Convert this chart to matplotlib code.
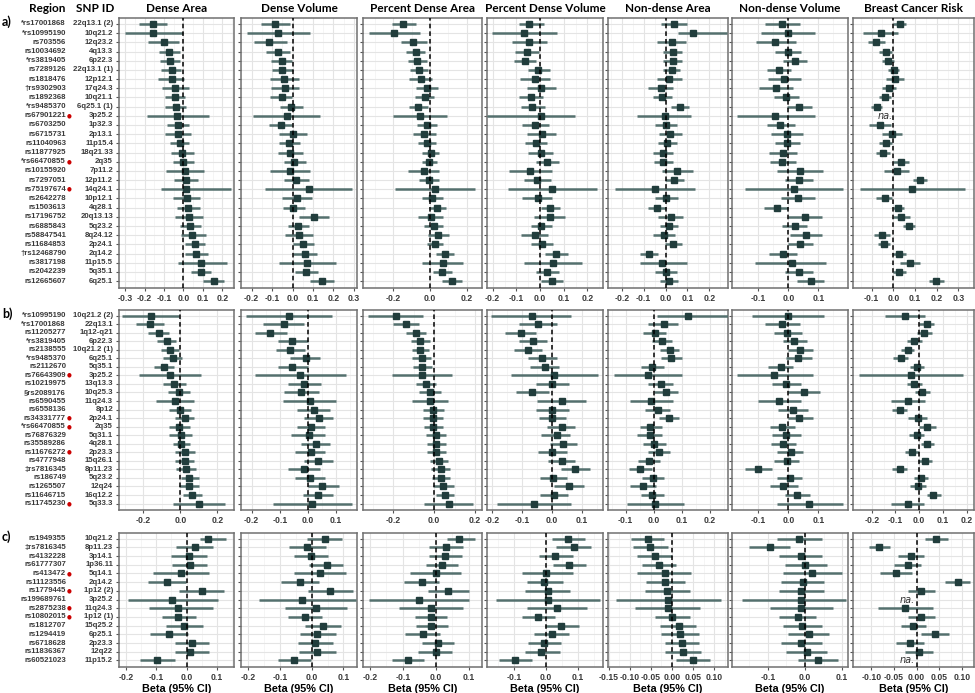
import matplotlib.pyplot as plt
import matplotlib.transforms as mtransforms
import numpy as np

traits = ["Dense Area", "Dense Volume", "Percent Dense Area", "Percent Dense Volume",
          "Non-dense Area", "Non-dense Volume", "Breast Cancer Risk"]

# ---------------- panel a ----------------
a_snps = ["*rs17001868", "*rs10995190", "rs703556", "rs10034692", "*rs3819405", "rs7289126",
          "rs1818476", "\u2020rs9302903", "rs1892368", "*rs9485370", "rs67901221", "rs6703250",
          "rs6715731", "rs11040963", "rs11877925", "*rs66470855", "rs10155920", "rs7297051",
          "rs75197674", "rs2642278", "rs1503613", "rs17196752", "rs6885843", "rs58847541",
          "rs11684853", "\u2020rs12468790", "rs3817198", "rs2042239", "rs12665607"]
a_regions = ["22q13.1 (2)", "10q21.2", "12q23.2", "4q13.3", "6p22.3", "22q13.1 (1)", "12p12.1",
             "17q24.3", "10q21.1", "6q25.1 (1)", "3p25.2", "1p32.3", "2p13.1", "11p15.4",
             "18q21.33", "2q35", "7p11.2", "12p11.2", "14q24.1", "10p12.1", "4q28.1", "20q13.13",
             "5q23.2", "8q24.12", "2p24.1", "2q14.2", "11p15.5", "5q35.1", "6q25.1"]
a_flag = [10, 15, 18]

a_dense_area = [(-0.158, -0.228, -0.084), (-0.158, -0.300, -0.004), (-0.100, -0.184, -0.023),
                (-0.075, -0.128, -0.018), (-0.070, -0.121, -0.018), (-0.061, -0.114, -0.012),
                (-0.061, -0.130, 0.005), (-0.044, -0.112, 0.026), (-0.042, -0.096, 0.009),
                (-0.040, -0.093, 0.012), (-0.033, -0.190, 0.130), (-0.028, -0.086, 0.030),
                (-0.028, -0.093, 0.039), (-0.018, -0.068, 0.030), (-0.009, -0.065, 0.053),
                (-0.004, -0.054, 0.053), (0.009, -0.088, 0.105), (0.012, -0.047, 0.074),
                (0.014, -0.118, 0.247), (0.016, -0.056, 0.084), (0.025, -0.035, 0.084),
                (0.026, -0.044, 0.098), (0.035, -0.019, 0.088), (0.046, -0.012, 0.114),
                (0.058, 0.007, 0.112), (0.065, 0.009, 0.128), (0.088, -0.030, 0.225),
                (0.090, 0.037, 0.140), (0.156, 0.102, 0.210)]
a_dense_volume = [(-0.087, -0.156, -0.013), (-0.070, -0.224, 0.085), (-0.114, -0.188, -0.029),
                  (-0.071, -0.130, -0.013), (-0.053, -0.107, -0.003), (-0.050, -0.102, 0.000),
                  (-0.040, -0.110, 0.031), (-0.037, -0.104, 0.033), (-0.053, -0.110, -0.003),
                  (-0.008, -0.061, 0.049), (-0.029, -0.195, 0.134), (-0.058, -0.114, -0.003),
                  (0.000, -0.065, 0.069), (-0.019, -0.068, 0.036), (-0.013, -0.070, 0.049),
                  (0.008, -0.042, 0.065), (-0.011, -0.110, 0.085), (0.018, -0.042, 0.078),
                  (0.078, -0.135, 0.290), (0.020, -0.053, 0.093), (0.004, -0.049, 0.059),
                  (0.105, 0.031, 0.178), (0.028, -0.024, 0.081), (0.031, -0.037, 0.101),
                  (0.051, 0.000, 0.105), (0.062, 0.004, 0.121), (0.073, -0.067, 0.212),
                  (0.068, 0.012, 0.125), (0.143, 0.085, 0.202)]
a_pct_dense_area = [(-0.145, -0.205, -0.078), (-0.195, -0.331, -0.055), (-0.091, -0.158, -0.018),
                    (-0.078, -0.131, -0.027), (-0.069, -0.118, -0.018), (-0.058, -0.109, -0.009),
                    (-0.051, -0.113, 0.009), (-0.018, -0.078, 0.045), (-0.027, -0.082, 0.022),
                    (-0.064, -0.113, -0.009), (-0.055, -0.204, 0.095), (-0.015, -0.073, 0.040),
                    (-0.031, -0.091, 0.031), (-0.018, -0.064, 0.031), (0.004, -0.045, 0.051),
                    (-0.004, -0.045, 0.040), (-0.031, -0.118, 0.051), (-0.004, -0.058, 0.051),
                    (0.027, -0.191, 0.245), (0.011, -0.045, 0.073), (0.040, -0.004, 0.087),
                    (0.004, -0.064, 0.073), (0.020, -0.031, 0.069), (0.045, -0.013, 0.105),
                    (0.027, -0.018, 0.073), (0.082, 0.033, 0.131), (0.069, -0.045, 0.182),
                    (0.067, 0.018, 0.118), (0.118, 0.064, 0.173)]
a_pct_dense_volume = [(-0.046, -0.089, 0.017), (-0.068, -0.204, 0.070), (-0.046, -0.120, 0.031),
                      (-0.056, -0.106, -0.004), (-0.063, -0.110, -0.018), (-0.007, -0.049, 0.042),
                      (-0.021, -0.085, 0.041), (0.006, -0.054, 0.066), (-0.037, -0.089, 0.013),
                      (-0.032, -0.082, 0.020), (0.003, -0.223, 0.148), (-0.021, -0.075, 0.038),
                      (0.007, -0.054, 0.069), (-0.015, -0.063, 0.031), (0.003, -0.049, 0.056),
                      (0.031, -0.015, 0.080), (-0.042, -0.131, 0.049), (-0.011, -0.068, 0.045),
                      (0.052, -0.134, 0.239), (-0.010, -0.075, 0.052), (0.042, 0.003, 0.085),
                      (0.041, -0.025, 0.106), (0.006, -0.039, 0.052), (-0.023, -0.082, 0.035),
                      (0.010, -0.039, 0.055), (0.069, 0.021, 0.118), (0.056, -0.068, 0.179),
                      (0.031, -0.018, 0.080), (0.049, 0.003, 0.099)]
a_nondense_area = [(0.038, -0.021, 0.098), (0.126, 0.058, 0.280), (0.029, -0.041, 0.095),
                   (0.035, -0.011, 0.077), (0.032, -0.011, 0.073), (0.029, -0.014, 0.065),
                   (0.015, -0.041, 0.073), (-0.023, -0.079, 0.032), (-0.017, -0.056, 0.027),
                   (0.064, 0.023, 0.106), (-0.003, -0.129, 0.118), (0.000, -0.048, 0.050),
                   (0.020, -0.030, 0.073), (0.005, -0.033, 0.050), (-0.012, -0.056, 0.032),
                   (-0.012, -0.053, 0.032), (0.053, -0.018, 0.126), (0.038, -0.003, 0.083),
                   (-0.048, -0.230, 0.133), (0.002, -0.048, 0.058), (-0.041, -0.079, 0.000),
                   (0.023, -0.033, 0.080), (0.017, -0.026, 0.058), (-0.008, -0.059, 0.042),
                   (0.032, -0.003, 0.073), (-0.076, -0.117, -0.033), (-0.018, -0.117, 0.098),
                   (0.002, -0.048, 0.050), (0.017, -0.026, 0.058)]
a_nondense_volume = [(-0.020, -0.078, 0.039), (-0.002, -0.092, 0.089), (-0.043, -0.108, 0.026),
                     (-0.002, -0.044, 0.041), (0.022, -0.017, 0.063), (-0.032, -0.072, 0.008),
                     (-0.013, -0.067, 0.041), (-0.041, -0.097, 0.014), (-0.007, -0.048, 0.037),
                     (0.034, -0.006, 0.078), (-0.044, -0.170, 0.089), (-0.027, -0.072, 0.022),
                     (-0.004, -0.058, 0.048), (-0.003, -0.044, 0.039), (-0.017, -0.063, 0.030),
                     (-0.020, -0.061, 0.026), (0.039, -0.039, 0.114), (0.036, -0.011, 0.083),
                     (0.019, -0.144, 0.183), (0.031, -0.026, 0.089), (-0.039, -0.081, 0.000),
                     (0.056, 0.000, 0.113), (0.022, -0.020, 0.063), (0.060, 0.006, 0.113),
                     (0.040, 0.000, 0.083), (-0.019, -0.063, 0.028), (0.011, -0.111, 0.126),
                     (0.036, -0.011, 0.083), (0.074, 0.030, 0.120)]
a_cancer_risk = [(0.029, 0.000, 0.060), (-0.058, -0.138, 0.022), (-0.078, -0.117, -0.040),
                 (-0.035, -0.066, -0.005), (-0.023, -0.051, 0.003), (0.002, -0.025, 0.026),
                 (0.008, -0.035, 0.049), (-0.020, -0.051, 0.011), (-0.040, -0.066, -0.011),
                 (-0.077, -0.102, -0.051), None, (-0.063, -0.112, -0.012),
                 (-0.006, -0.051, 0.042), (-0.035, -0.066, -0.005), (-0.049, -0.082, -0.017),
                 (0.034, 0.000, 0.072), (0.015, -0.043, 0.072), (0.123, 0.092, 0.157),
                 (0.088, -0.155, 0.331), (-0.040, -0.078, -0.006), (0.022, -0.002, 0.049),
                 (0.035, 0.000, 0.077), (0.074, 0.046, 0.100), (-0.052, -0.089, -0.017),
                 (-0.042, -0.071, -0.014), (0.025, -0.005, 0.057), (0.077, 0.031, 0.123),
                 (0.028, 0.000, 0.057), (0.198, 0.165, 0.234)]

# ---------------- panel b ----------------
b_snps = ["*rs10995190", "*rs17001868", "rs11205277", "*rs3819405", "rs2138555", "*rs9485370",
          "rs2112670", "rs76643909", "rs10219975", "\u00a7rs2089176", "rs6590455", "rs6558136",
          "rs34331777", "*rs66470855", "rs76876329", "rs35589286", "rs11676272", "rs4777948",
          "\u2021rs7816345", "rs186749", "rs1265507", "rs11646715", "rs11745230"]
b_regions = ["10q21.2 (2)", "22q13.1", "1q12-q21", "6p22.3", "10q21.2 (1)", "6q25.1", "5q35.1",
             "3p25.2", "13q13.3", "10q25.3", "11q24.3", "8p12", "2p24.1", "2q35", "5q31.1",
             "4q28.1", "2p23.3", "15q26.1", "8p11.23", "5q23.2", "12q24", "16q12.2", "5q33.3"]
b_flag = [7, 12, 13, 16, 22]

b_dense_area = [(-0.161, -0.314, -0.010), (-0.165, -0.239, -0.091), (-0.114, -0.174, -0.060),
                (-0.074, -0.125, -0.025), (-0.058, -0.107, -0.007), (-0.042, -0.095, 0.011),
                (-0.086, -0.142, -0.033), (-0.056, -0.223, 0.112), (-0.033, -0.095, 0.032),
                (-0.007, -0.068, 0.051), (-0.028, -0.133, 0.075), (0.000, -0.060, 0.058),
                (0.025, -0.028, 0.075), (-0.005, -0.060, 0.051), (0.002, -0.060, 0.063),
                (0.004, -0.042, 0.054), (0.025, -0.030, 0.081), (0.023, -0.028, 0.072),
                (0.030, -0.025, 0.084), (0.047, 0.002, 0.098), (0.046, -0.007, 0.098),
                (0.065, 0.016, 0.119), (0.098, -0.042, 0.239)]
b_dense_volume = [(-0.067, -0.221, 0.086), (-0.086, -0.158, -0.013), (-0.133, -0.188, -0.075),
                  (-0.055, -0.107, -0.001), (-0.062, -0.114, -0.010), (-0.006, -0.063, 0.044),
                  (-0.056, -0.107, -0.001), (-0.027, -0.188, 0.136), (-0.012, -0.071, 0.048),
                  (-0.024, -0.085, 0.038), (0.006, -0.087, 0.101), (0.021, -0.039, 0.080),
                  (0.038, -0.013, 0.089), (0.011, -0.039, 0.062), (0.004, -0.060, 0.062),
                  (0.029, -0.024, 0.080), (0.010, -0.045, 0.062), (0.036, -0.015, 0.089),
                  (-0.014, -0.071, 0.042), (0.008, -0.045, 0.062), (0.052, 0.002, 0.112),
                  (0.036, -0.018, 0.089), (0.015, -0.125, 0.157)]
b_pct_dense_area = [(-0.188, -0.323, -0.054), (-0.140, -0.200, -0.075), (-0.087, -0.136, -0.038),
                    (-0.069, -0.114, -0.021), (-0.069, -0.111, -0.024), (-0.062, -0.111, -0.016),
                    (-0.059, -0.106, -0.013), (-0.059, -0.206, 0.085), (-0.038, -0.087, 0.011),
                    (-0.021, -0.073, 0.031), (-0.021, -0.111, 0.069), (-0.005, -0.057, 0.049),
                    (-0.005, -0.054, 0.044), (-0.005, -0.049, 0.044), (0.007, -0.041, 0.057),
                    (0.011, -0.034, 0.057), (0.011, -0.034, 0.057), (0.023, -0.021, 0.069),
                    (0.031, -0.016, 0.077), (0.034, -0.010, 0.077), (0.044, -0.005, 0.096),
                    (0.052, 0.007, 0.096), (0.072, -0.049, 0.191)]
b_pct_dense_volume = [(-0.067, -0.202, 0.064), (-0.046, -0.110, 0.017), (-0.104, -0.155, -0.054),
                      (-0.063, -0.110, -0.017), (-0.079, -0.127, -0.031), (-0.031, -0.079, 0.017),
                      (-0.022, -0.071, 0.025), (0.009, -0.136, 0.154), (0.000, -0.054, 0.056),
                      (-0.065, -0.119, -0.009), (0.033, -0.048, 0.115), (0.000, -0.054, 0.056),
                      (0.002, -0.043, 0.047), (0.033, -0.015, 0.079), (0.016, -0.037, 0.062),
                      (0.039, -0.007, 0.084), (0.001, -0.045, 0.051), (0.033, -0.011, 0.078),
                      (0.079, 0.030, 0.126), (0.004, -0.039, 0.051), (0.058, 0.006, 0.109),
                      (0.006, -0.040, 0.055), (-0.060, -0.183, 0.064)]
b_nondense_area = [(0.120, 0.011, 0.263), (0.035, -0.021, 0.086), (0.004, -0.037, 0.044),
                   (0.030, -0.008, 0.064), (0.058, 0.023, 0.090), (0.062, 0.025, 0.100),
                   (-0.007, -0.046, 0.035), (-0.020, -0.142, 0.102), (0.024, -0.021, 0.068),
                   (0.043, 0.000, 0.086), (-0.010, -0.085, 0.067), (0.014, -0.031, 0.058),
                   (0.054, 0.017, 0.088), (-0.012, -0.049, 0.029), (-0.015, -0.061, 0.029),
                   (0.000, -0.040, 0.043), (0.019, -0.021, 0.058), (-0.017, -0.055, 0.023),
                   (-0.049, -0.090, -0.007), (-0.004, -0.043, 0.035), (-0.037, -0.085, 0.008),
                   (-0.006, -0.045, 0.035), (0.006, -0.096, 0.108)]
b_nondense_volume = [(-0.002, -0.122, 0.119), (-0.020, -0.078, 0.039), (-0.003, -0.048, 0.044),
                     (0.020, -0.019, 0.063), (0.039, 0.000, 0.081), (0.033, -0.008, 0.078),
                     (-0.024, -0.067, 0.017), (-0.048, -0.172, 0.081), (-0.008, -0.056, 0.041),
                     (0.052, 0.000, 0.106), (-0.030, -0.102, 0.042), (0.014, -0.033, 0.067),
                     (0.036, 0.000, 0.081), (-0.020, -0.061, 0.022), (-0.009, -0.056, 0.041),
                     (-0.017, -0.059, 0.026), (0.008, -0.037, 0.050), (-0.006, -0.047, 0.036),
                     (-0.100, -0.144, -0.056), (0.006, -0.037, 0.047), (-0.017, -0.061, 0.031),
                     (0.028, -0.011, 0.072), (0.070, -0.039, 0.181)]
b_cancer_risk = [(-0.061, -0.145, 0.024), (0.031, 0.000, 0.062), (0.020, -0.011, 0.052),
                 (-0.023, -0.051, 0.010), (-0.049, -0.077, -0.021), (-0.077, -0.110, -0.046),
                 (-0.011, -0.039, 0.021), (-0.035, -0.254, 0.186), (-0.021, -0.051, 0.013),
                 (0.013, -0.018, 0.045), (-0.046, -0.120, 0.024), (-0.082, -0.113, -0.051),
                 (-0.007, -0.046, 0.031), (0.034, -0.001, 0.070), (-0.011, -0.042, 0.020),
                 (0.034, 0.006, 0.062), (-0.032, -0.061, -0.001), (0.024, -0.004, 0.052),
                 (-0.082, -0.113, -0.051), (0.007, -0.021, 0.038), (-0.007, -0.039, 0.027),
                 (0.059, 0.031, 0.090), (-0.049, -0.117, 0.020)]

# ---------------- panel c ----------------
c_snps = ["rs1949355", "\u2021rs7816345", "rs4132228", "rs61777307", "rs413472", "rs11123556",
          "rs1779445", "rs199689761", "rs2875238", "rs10802015", "rs1812707", "rs1294419",
          "rs6718628", "rs11836367", "rs60521023"]
c_regions = ["10q21.2", "8p11.23", "3p14.1", "1p36.11", "5q14.1", "2q14.2", "1p12 (2)", "3p25.2",
             "11q24.3", "1p12 (1)", "15q25.2", "6p25.1", "2p23.3", "12q22", "11p15.2"]
c_flag = [4, 6, 8, 9]

c_dense_area = [(0.070, 0.042, 0.128), (0.026, -0.034, 0.085), (0.009, -0.053, 0.065),
                (0.011, -0.049, 0.068), (-0.020, -0.110, 0.074), (-0.066, -0.128, -0.003),
                (0.049, -0.026, 0.123), (-0.048, -0.193, 0.102), (-0.028, -0.123, 0.085),
                (-0.027, -0.080, 0.032), (-0.008, -0.068, 0.053), (-0.057, -0.119, 0.003),
                (0.017, -0.040, 0.074), (0.011, -0.040, 0.074), (-0.097, -0.153, -0.040)]
c_dense_volume = [(0.041, -0.014, 0.095), (-0.014, -0.072, 0.045), (-0.003, -0.056, 0.052),
                  (0.047, -0.009, 0.100), (0.026, -0.057, 0.109), (-0.036, -0.097, 0.022),
                  (0.057, -0.012, 0.129), (-0.030, -0.166, 0.139), (0.015, -0.083, 0.111),
                  (-0.022, -0.076, 0.033), (0.036, -0.020, 0.091), (0.018, -0.038, 0.076),
                  (0.012, -0.044, 0.066), (0.017, -0.041, 0.076), (-0.057, -0.107, -0.003)]
c_pct_dense_area = [(0.071, 0.036, 0.120), (0.033, -0.020, 0.082), (0.028, -0.020, 0.079),
                    (0.020, -0.029, 0.069), (0.000, -0.079, 0.077), (-0.043, -0.095, 0.010),
                    (0.038, -0.023, 0.102), (-0.051, -0.202, 0.100), (-0.015, -0.110, 0.082),
                    (-0.015, -0.064, 0.034), (-0.013, -0.061, 0.038), (-0.039, -0.092, 0.013),
                    (0.007, -0.043, 0.056), (0.000, -0.054, 0.051), (-0.084, -0.133, -0.036)]
c_pct_dense_volume = [(0.069, 0.017, 0.123), (0.086, 0.031, 0.142), (0.029, -0.023, 0.084),
                      (0.073, 0.021, 0.126), (0.001, -0.077, 0.083), (-0.006, -0.061, 0.052),
                      (0.006, -0.065, 0.076), (0.005, -0.158, 0.168), (0.034, -0.059, 0.128),
                      (-0.025, -0.077, 0.027), (0.047, -0.004, 0.102), (0.017, -0.039, 0.073),
                      (-0.006, -0.057, 0.048), (-0.015, -0.067, 0.045), (-0.096, -0.148, -0.044)]
c_nondense_area = [(-0.057, -0.097, -0.019), (-0.052, -0.093, -0.010), (-0.041, -0.083, 0.001),
                   (-0.031, -0.071, 0.010), (-0.017, -0.083, 0.046), (-0.016, -0.061, 0.030),
                   (-0.011, -0.063, 0.042), (-0.010, -0.134, 0.117), (-0.010, -0.087, 0.067),
                   (0.001, -0.040, 0.042), (0.016, -0.029, 0.056), (0.020, -0.025, 0.064),
                   (0.024, -0.017, 0.064), (0.026, -0.017, 0.070), (0.050, 0.009, 0.091)]
c_nondense_volume = [(-0.015, -0.075, 0.045), (-0.095, -0.150, -0.040), (-0.012, -0.070, 0.045),
                     (0.000, -0.055, 0.060), (0.020, -0.060, 0.100), (-0.005, -0.065, 0.050),
                     (-0.010, -0.070, 0.050), (-0.010, -0.170, 0.110), (-0.010, -0.095, 0.075),
                     (-0.020, -0.070, 0.030), (-0.008, -0.060, 0.045), (0.010, -0.045, 0.065),
                     (-0.010, -0.065, 0.045), (0.005, -0.050, 0.060), (0.035, -0.020, 0.090)]
c_cancer_risk = [(0.042, 0.018, 0.068), (-0.082, -0.105, -0.058), (-0.012, -0.040, 0.015),
                 (-0.020, -0.050, 0.010), (-0.045, -0.080, -0.010), (0.090, 0.062, 0.118),
                 (0.010, -0.020, 0.040), None, (-0.025, -0.085, 0.035),
                 (0.010, -0.020, 0.040), (-0.008, -0.035, 0.020), (0.040, 0.010, 0.070),
                 (-0.015, -0.045, 0.015), (0.005, -0.025, 0.035), None]

groups = [
    ("a)", a_snps, a_regions, a_flag,
     [a_dense_area, a_dense_volume, a_pct_dense_area, a_pct_dense_volume,
      a_nondense_area, a_nondense_volume, a_cancer_risk]),
    ("b)", b_snps, b_regions, b_flag,
     [b_dense_area, b_dense_volume, b_pct_dense_area, b_pct_dense_volume,
      b_nondense_area, b_nondense_volume, b_cancer_risk]),
    ("c)", c_snps, c_regions, c_flag,
     [c_dense_area, c_dense_volume, c_pct_dense_area, c_pct_dense_volume,
      c_nondense_area, c_nondense_volume, c_cancer_risk]),
]

# axis setup per group: (xlim, tick step, decimals)
axis_setup = [
    [((-0.332, 0.26), 0.1, 1), ((-0.252, 0.315), 0.1, 1), ((-0.365, 0.283), 0.2, 1),
     ((-0.224, 0.266), 0.1, 1), ((-0.263, 0.285), 0.1, 1), ((-0.188, 0.199), 0.1, 1),
     ((-0.186, 0.372), 0.1, 1)],
    [((-0.332, 0.29), 0.2, 1), ((-0.238, 0.175), 0.1, 1), ((-0.349, 0.234), 0.2, 1),
     ((-0.216, 0.171), 0.1, 1), ((-0.163, 0.264), 0.1, 1), ((-0.188, 0.199), 0.1, 1),
     ((-0.279, 0.231), 0.1, 1)],
    [((-0.222, 0.155), 0.1, 1), ((-0.223, 0.143), 0.1, 1), ((-0.221, 0.141), 0.1, 1),
     ((-0.185, 0.178), 0.1, 1), ((-0.152, 0.133), 0.05, 2), ((-0.197, 0.116), 0.1, 1),
     ((-0.140, 0.126), 0.05, 2)],
]

W, H = 975, 693
col_left = [119, 241, 363, 487, 608, 732, 853]
col_w = [115, 116, 119, 116, 120, 116, 121]
row_top = [18, 310, 533]
row_bot = [288, 510, 667]

PT_COL = "#213d3c"
CI_COL = "#54706e"
TXT = "#3a3a3a"


def fmt(t, dec):
    if abs(t) < 1e-9:
        t = 0.0
    return f"{t:.{dec}f}"


def draw_panel(ax, rows, lims, step, dec, show_xlabel):
    n = len(rows)
    for i, r in enumerate(rows):
        y = i + 1
        if r is None:
            ax.text(-0.004, y, "na.", ha="right", va="center", fontsize=7,
                    style="italic", color="#333333", family="DejaVu Sans")
            continue
        est, lo, hi = r
        ax.plot([lo, hi], [y, y], color=CI_COL, lw=1.8, solid_capstyle="butt", zorder=3)
        ax.plot(est, y, marker="s", ms=4.6, color=PT_COL, zorder=4)
    ax.axvline(0, color="black", lw=1.1, ls=(0, (3, 2)), zorder=5)
    ax.set_xlim(*lims)
    ax.set_ylim(n + 0.75, 0.35)
    ticks = np.arange(np.ceil(lims[0] / step - 1e-9) * step, lims[1] + 1e-9, step)
    ticks = np.round(ticks, 3)
    minors = np.round(np.arange(ticks[0] - step / 2, lims[1], step), 4)
    minors = [m for m in minors if lims[0] < m < lims[1]]
    ax.set_xticks(ticks)
    ax.set_xticklabels([fmt(t, dec) for t in ticks])
    ax.set_xticks(minors, minor=True)
    ax.set_yticks(range(1, n + 1))
    ax.set_yticklabels([])
    ax.grid(True, which="major", color="#e4e4e4", lw=0.8, zorder=0)
    ax.grid(True, which="minor", axis="x", color="#f1f1f1", lw=0.5, zorder=0)
    ax.set_axisbelow(True)
    ax.tick_params(axis="x", which="major", labelsize=6.2, length=2, color="#555555",
                   labelcolor=TXT, pad=2)
    ax.tick_params(axis="x", which="minor", length=0)
    ax.tick_params(axis="y", length=2, color="#555555")
    for lab in ax.get_xticklabels():
        lab.set_fontweight("bold")
    for s in ax.spines.values():
        s.set_color("#707070")
        s.set_linewidth(1.1)
    if show_xlabel:
        ax.set_xlabel("Beta (95% CI)", fontsize=7.8, fontweight="bold", labelpad=2,
                      family="Liberation Sans")


def main():
    plt.rcParams["font.family"] = "Liberation Sans"
    fig = plt.figure(figsize=(W / 100, H / 100), dpi=100)

    for g, (tag, snps, regions, flags, series) in enumerate(groups):
        top, bot = row_top[g], row_bot[g]
        axes = []
        for k in range(7):
            ax = fig.add_axes([col_left[k] / W, 1 - bot / H, col_w[k] / W, (bot - top) / H])
            lims, step, dec = axis_setup[g][k]
            draw_panel(ax, series[k], lims, step, dec, g == 2)
            axes.append(ax)

        tr = mtransforms.blended_transform_factory(fig.transFigure, axes[0].transData)
        for i, (snp, reg) in enumerate(zip(snps, regions)):
            y = i + 1
            fig.text(66 / W, y, snp, transform=tr, ha="right", va="center",
                     fontsize=5.6, fontweight="bold", color=TXT)
            fig.text(113 / W, y, reg, transform=tr, ha="right", va="center",
                     fontsize=5.6, fontweight="bold", color=TXT)
            if i in flags:
                fig.text(67 / W, y, "\u25cf", transform=tr, ha="left", va="center",
                         fontsize=4, color="#cc0000", family="DejaVu Sans")
        fig.text(2 / W, 1 - (top + 4) / H, tag, ha="left", va="center",
                 fontsize=9, fontweight="bold", family="Lato")

    # column headers
    fig.text(47 / W, 1 - 8 / H, "Region", ha="center", va="center", fontsize=8.5,
             fontweight="bold", family="Lato")
    fig.text(95 / W, 1 - 8 / H, "SNP ID", ha="center", va="center", fontsize=8.5,
             fontweight="bold", family="Lato")
    for k, name in enumerate(traits):
        fig.text((col_left[k] + col_w[k] / 2) / W, 1 - 8 / H, name, ha="center", va="center",
                 fontsize=8.5, fontweight="bold", family="Lato")

    plt.savefig("out.png", dpi=100)


if __name__ == "__main__":
    main()
